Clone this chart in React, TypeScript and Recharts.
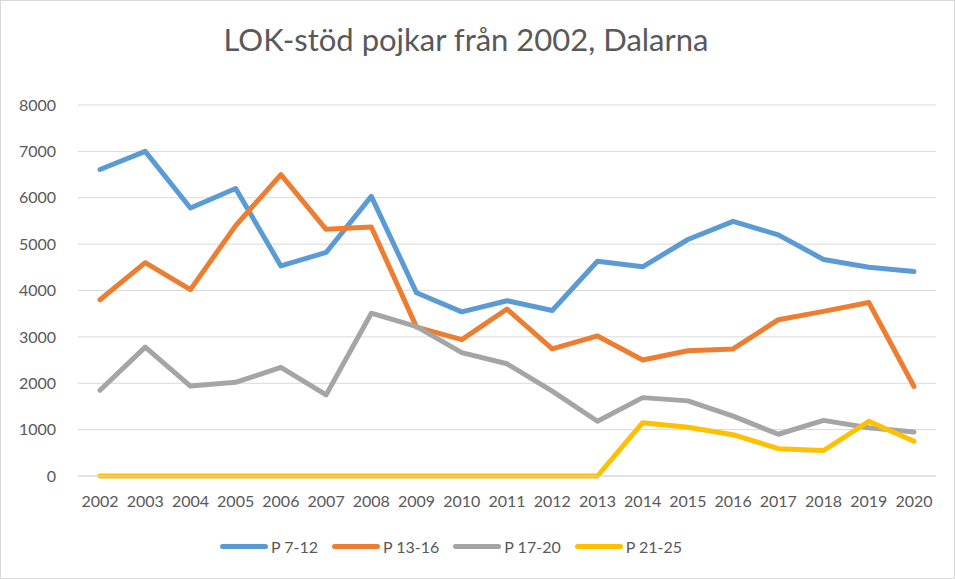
import { LineChart, Line, XAxis, YAxis, CartesianGrid, Legend } from 'recharts'

const years = ['2002', '2003', '2004', '2005', '2006', '2007', '2008', '2009', '2010', '2011', '2012', '2013', '2014', '2015', '2016', '2017', '2018', '2019', '2020']
const p7to12 = [6610, 7000, 5780, 6200, 4530, 4820, 6030, 3950, 3540, 3780, 3570, 4630, 4510, 5100, 5490, 5200, 4670, 4500, 4410]
const p13to16 = [3800, 4600, 4020, 5400, 6500, 5320, 5370, 3210, 2940, 3600, 2740, 3020, 2500, 2700, 2740, 3370, 3550, 3740, 1930]
const p17to20 = [1850, 2780, 1940, 2020, 2340, 1750, 3510, 3220, 2660, 2420, 1830, 1180, 1690, 1620, 1290, 900, 1200, 1040, 950]
const p21to25 = [0, 0, 0, 0, 0, 0, 0, 0, 0, 0, 0, 0, 1150, 1050, 890, 590, 550, 1180, 750]
const yTicks = [0, 1000, 2000, 3000, 4000, 5000, 6000, 7000, 8000]

const seriesInfo = [
  { key: 'p7', name: 'P 7-12', color: '#5b9bd5' },
  { key: 'p13', name: 'P 13-16', color: '#ed7d31' },
  { key: 'p17', name: 'P 17-20', color: '#a5a5a5' },
  { key: 'p21', name: 'P 21-25', color: '#ffc000' },
]

const data = years.map((year, i) => ({
  year,
  p7: p7to12[i],
  p13: p13to16[i],
  p17: p17to20[i],
  p21: p21to25[i],
}))

const font = 'Lato, "Open Sans", sans-serif'

function LegendContent() {
  return (
    <div style={{ display: 'flex', justifyContent: 'center', gap: 14, height: 24, alignItems: 'center', fontFamily: font, fontSize: 16, color: '#595959', paddingRight: 34 }}>
      {seriesInfo.map((s) => (
        <div key={s.key} style={{ display: 'flex', alignItems: 'center' }}>
          <div style={{ width: 48, height: 5, borderRadius: 3, backgroundColor: s.color, marginRight: 3 }} />
          <span>{s.name}</span>
        </div>
      ))}
    </div>
  )
}

export default function App() {
  return (
    <div style={{ position: 'absolute', left: 0, top: 0, width: 955, height: 579, background: '#fff', border: '1px solid #d9d9d9', boxSizing: 'border-box', fontFamily: font }}>
      <div style={{ position: 'absolute', left: 0, width: 930, top: 19, textAlign: 'center', fontSize: 31, color: '#595959' }}>
        LOK-stöd pojkar från 2002, Dalarna
      </div>
      <div style={{ position: 'absolute', left: -1, top: -1 }}>
        <LineChart width={955} height={579} data={data} margin={{ top: 105, right: 19, left: 0, bottom: 21 }}>
          <CartesianGrid vertical={false} stroke="#d9d9d9" strokeWidth={1} />
          <XAxis
            dataKey="year"
            axisLine={{ stroke: '#d9d9d9' }}
            tickLine={false}
            tickMargin={14}
            height={58}
            interval={0}
            padding={{ left: 22, right: 22 }}
            tick={{ fill: '#595959', fontSize: 16, fontFamily: font }}
          />
          <YAxis
            width={78}
            domain={[0, 8000]}
            ticks={yTicks}
            axisLine={false}
            tickLine={false}
            tickMargin={16}
            tick={{ fill: '#595959', fontSize: 16, fontFamily: font }}
          />
          <Legend verticalAlign="bottom" content={<LegendContent />} wrapperStyle={{ height: 24 }} />
          {seriesInfo.map((s) => (
            <Line
              key={s.key}
              type="linear"
              dataKey={s.key}
              name={s.name}
              stroke={s.color}
              strokeWidth={5}
              strokeLinecap="round"
              strokeLinejoin="round"
              dot={false}
              activeDot={false}
              isAnimationActive={false}
            />
          ))}
        </LineChart>
      </div>
    </div>
  )
}
